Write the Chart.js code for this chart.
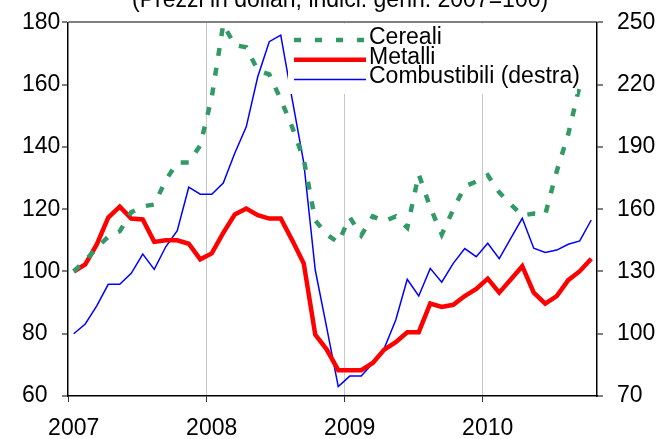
<!DOCTYPE html>
<html>
<head>
<meta charset="utf-8">
<script src="https://cdn.jsdelivr.net/npm/chart.js@4"></script>
<style>
  html, body { margin: 0; padding: 0; background: #fff; }
  #wrap { position: relative; width: 666px; height: 439px; }
</style>
</head>
<body>
<div id="wrap"><canvas id="chart" width="666" height="439"></canvas></div>
<script>
const title = "(Prezzi in dollari; indici: genn. 2007=100)";
const yearLabels = ["2007", "2008", "2009", "2010"];
const yearStarts = [-0.5, 11.5, 23.5, 35.5];

// monthly values, Jan 2007 .. Oct 2010
const cereali = [100, 103.5, 107.5, 111.2, 112.9, 119, 120.9, 121.5, 129.3, 135, 135, 140.5,
  156, 179.4, 172.7, 172, 164.6, 163.3, 155.3, 146.3, 136, 116.4, 111.9, 109.3,
  117.4, 111.6, 117.7, 116.1, 117.7, 114.1, 131.2, 120.6, 111.9, 119.9, 127.3, 128.9,
  130.9, 125.4, 121.5, 118, 118.6, 118.3, 132.2, 144.1, 159.8, null];
const metalli = [100, 102.3, 108.7, 117.3, 120.8, 117, 116.7, 109.5, 110, 110, 108.9, 103.9,
  105.8, 112.4, 118.3, 120.2, 118.1, 117, 117, 110, 102.6, 79.7, 74.9, 68.3,
  68.3, 68.3, 70.6, 74.9, 77.3, 80.5, 80.5, 89.7, 88.6, 89.3, 92.1, 94.4,
  97.7, 93.2, 97.4, 101.7, 93.2, 89.7, 92.1, 97.2, 100.1, 104.1];
const combustibili = [100, 104.7, 113.4, 123.8, 123.8, 129.1, 138.4, 131, 141.9, 149.6, 170.6, 167.2,
  167.2, 172.6, 187, 199.7, 223.8, 240.7, 243.9, 212.8, 182.5, 130.7, 102.8, 74.5,
  79.6, 79.6, 85.8, 93, 106.6, 126.2, 118.2, 131.5, 124.8, 133.9, 141, 137.1,
  143.6, 136.2, 146, 155.6, 141.2, 139.2, 140.3, 143.1, 144.7, 154.8];

const FONT = "'Liberation Sans', Arial, sans-serif";
const GREEN = "#339966";
const toPoints = (values) => values.map((y, x) => ({ x, y }));

const legendItems = [
  { text: "Cereali", color: GREEN, width: 4.5, dash: [7, 14] },
  { text: "Metalli", color: "#ff0000", width: 4.5, dash: [] },
  { text: "Combustibili (destra)", color: "#0000ff", width: 1.5, dash: [] },
];

const overlay = {
  id: "overlay",
  afterDatasetsDraw(chart) {
    const { ctx } = chart;
    ctx.save();
    // legend sits inside the plot on a white box
    ctx.fillStyle = "#fff";
    ctx.fillRect(288, 23.5, 289, 70.5);
    ctx.font = `23px ${FONT}`;
    ctx.textBaseline = "middle";
    ctx.textAlign = "left";
    legendItems.forEach((item, i) => {
      const y = 40 + i * 19.7;
      ctx.beginPath();
      ctx.setLineDash(item.dash);
      ctx.lineWidth = item.width;
      ctx.strokeStyle = item.color;
      ctx.moveTo(294, y);
      ctx.lineTo(366, y);
      ctx.stroke();
      ctx.fillStyle = "#000";
      ctx.fillText(item.text, 369, y - 2.5);
    });
    ctx.setLineDash([]);
    // title, clipped by the top of the picture
    ctx.textBaseline = "alphabetic";
    ctx.fillText(title, 132, 6.5);
    ctx.restore();
  },
};

new Chart(document.getElementById("chart"), {
  type: "line",
  data: {
    datasets: [
      { label: "Cereali", data: toPoints(cereali), yAxisID: "y", borderColor: GREEN, borderWidth: 4.5, borderDash: [8, 12] },
      { label: "Metalli", data: toPoints(metalli), yAxisID: "y", borderColor: "#ff0000", borderWidth: 4.5 },
      { label: "Combustibili (destra)", data: toPoints(combustibili), yAxisID: "y2", borderColor: "#0000ff", borderWidth: 1.5 },
    ],
  },
  options: {
    responsive: false,
    animation: false,
    devicePixelRatio: 1,
    layout: { padding: { top: 22.4, left: 22, right: 0, bottom: 0 } },
    elements: { point: { radius: 0 }, line: { tension: 0, borderJoinStyle: "miter", fill: false } },
    plugins: { legend: { display: false }, tooltip: { enabled: false } },
    scales: {
      x: {
        type: "linear",
        min: -0.5,
        max: 45.5,
        afterBuildTicks: (scale) => { scale.ticks = yearStarts.map((value) => ({ value })); },
        afterFit: (scale) => { scale.height = 43; scale.paddingLeft = 0; scale.paddingRight = 0; },
        ticks: {
          font: { family: FONT, size: 23 },
          color: "#000",
          padding: 13,
          labelOffset: 5.7,
          maxRotation: 0,
          autoSkip: false,
          callback: (value) => yearLabels[yearStarts.indexOf(value)] ?? "",
        },
        grid: {
          color: (c) => (c.tick && c.tick.value > 0 ? "#c8c8c8" : "rgba(0,0,0,0)"),
          lineWidth: 1,
          tickColor: "#333",
          tickLength: 6,
        },
        border: { color: "#000", width: 1.5 },
      },
      y: {
        position: "left",
        min: 60,
        max: 180,
        afterFit: (scale) => { scale.width = 46; scale.paddingTop = 0; scale.paddingBottom = 0; },
        ticks: { stepSize: 20, font: { family: FONT, size: 23 }, color: "#000", padding: 2, crossAlign: "far" },
        grid: {
          color: (c) => (c.tick && c.tick.value === 180 ? "#808080" : "rgba(0,0,0,0)"),
          lineWidth: 2,
          tickColor: "#808080",
          tickLength: 6,
        },
        border: { color: "#000", width: 1.5 },
      },
      y2: {
        position: "right",
        min: 70,
        max: 250,
        afterFit: (scale) => { scale.width = 69; scale.paddingTop = 0; scale.paddingBottom = 0; },
        ticks: { stepSize: 30, font: { family: FONT, size: 23 }, color: "#000", padding: 14 },
        grid: { drawOnChartArea: false, tickColor: "#808080", tickLength: 6, lineWidth: 2 },
        border: { color: "#000", width: 1.5 },
      },
    },
  },
  plugins: [overlay],
});
</script>
</body>
</html>
